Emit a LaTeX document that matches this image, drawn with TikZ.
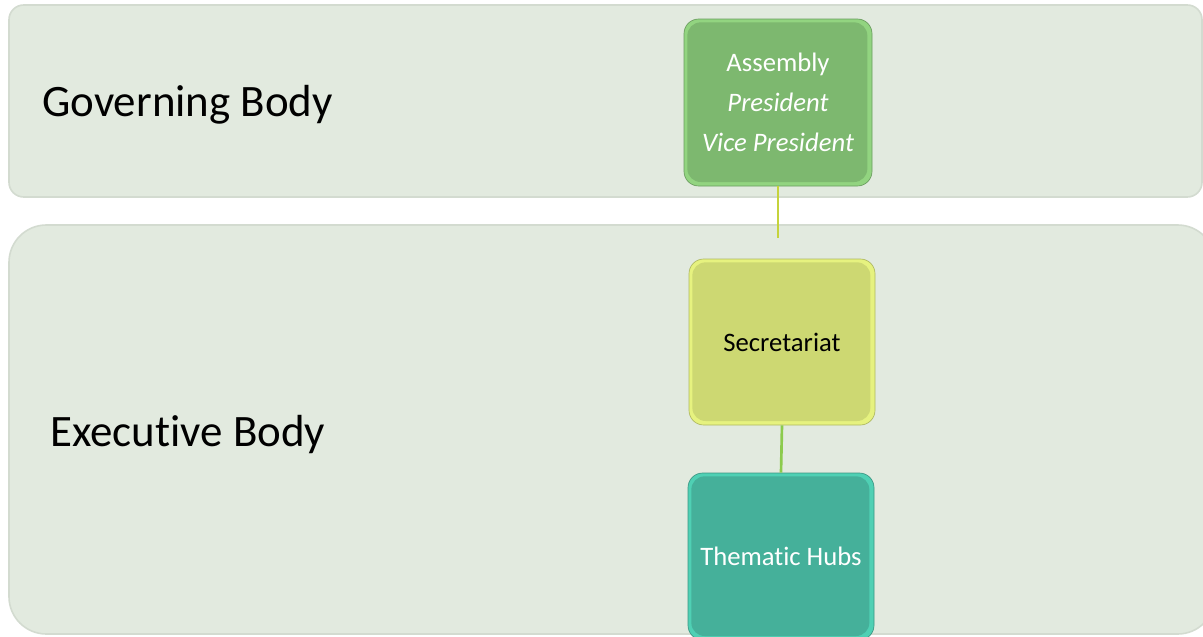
\documentclass[tikz,border=0pt]{standalone}
\usepackage{fontspec}
\setmainfont[Ligatures=NoCommon]{Carlito}
\definecolor{bandfill}{HTML}{E2EADF}
\definecolor{bandline}{HTML}{D3DBD0}
\definecolor{asmmain}{HTML}{7DB86F}
\definecolor{asmedge}{HTML}{92D480}
\definecolor{secmain}{HTML}{CDD872}
\definecolor{secedge}{HTML}{E6F27F}
\definecolor{thmmain}{HTML}{45B09A}
\definecolor{thmedge}{HTML}{4FD0B4}
\definecolor{connA}{HTML}{C5D33C}
\definecolor{connB}{HTML}{8CCB4D}
\tikzset{
  band/.style={fill=bandfill, draw=bandline, line width=1.2pt},
  bandlabel/.style={anchor=west, font=\fontsize{33.7pt}{40pt}\selectfont, text=black, inner sep=0pt},
  orgbox/.style={rounded corners=11pt, minimum width=#1, align=center,
     font=\fontsize{20pt}{30pt}\selectfont, inner sep=0pt},
  bevel/.style args={#1/#2}{fill=#2, draw=#1!85!black, line width=0.5pt,
     path picture={\fill[#1, rounded corners=10pt]
        ([shift={(2.5pt,3pt)}]path picture bounding box.south west) rectangle
        ([shift={(-3.5pt,-2.5pt)}]path picture bounding box.north east);}},
  conn/.style={line width=2pt}
}
\begin{document}
\begin{tikzpicture}[x=0.75pt,y=-0.75pt]
\useasboundingbox (0,0) rectangle (1203,636);
\clip (0,0) rectangle (1203,636);
\fill[white] (0,0) rectangle (1203,636);
% bands
\draw[band, rounded corners=11pt] (9,5) rectangle (1202,197);
\draw[band, rounded corners=28pt] (9,225) rectangle (1215,634);
\node[bandlabel] (gov) at (42,105) {Governing Body};
\node[bandlabel] (exe) at (50,435) {Executive Body};
% boxes
\node[orgbox=141pt, minimum height=125.25pt, bevel=asmmain/asmedge, text=white]
  (asm) at (778,102.5) {Assembly\\\textit{President}\\\textit{Vice President}};
\node[orgbox=139.5pt, minimum height=124.5pt, bevel=secmain/secedge, text=black]
  (sec) at (782,342) {Secretariat};
\node[orgbox=139.5pt, minimum height=125.25pt, bevel=thmmain/thmedge, text=white]
  (thm) at (781,556.5) {Thematic Hubs};
% connectors
\coordinate (c1) at (778,238);
\draw[conn, connA] (asm.south) -- (c1);
\draw[conn, connB] (sec.south) -- (thm.north);
\end{tikzpicture}
\end{document}
